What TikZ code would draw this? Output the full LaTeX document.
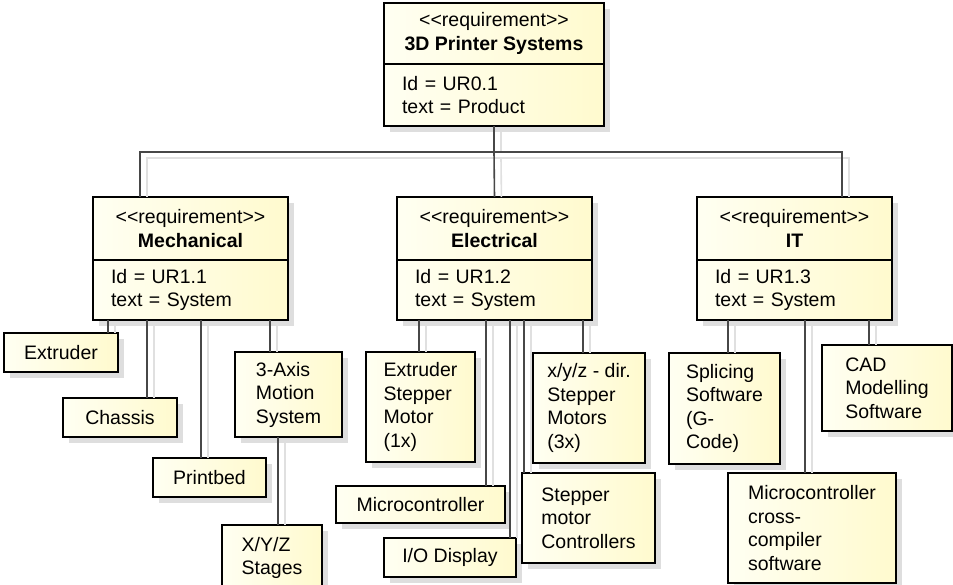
\documentclass[tikz,border=0pt]{standalone}
\usepackage{fontspec}
\setmainfont{Liberation Sans}
\usepackage{tikz}
\usetikzlibrary{positioning,shadows}
\definecolor{paper}{RGB}{255,255,242}
\definecolor{straw}{RGB}{255,250,206}
\newcommand{\stereo}{<\kern0pt<requirement>\kern0pt>}

\begin{document}
\begin{tikzpicture}[x=1pt,y=-1pt,font=\fontsize{19.5}{23.5}\selectfont,
  card/.style={draw,line width=2.4pt,outer sep=0pt,inner sep=0pt,left color=paper,right color=straw,
    drop shadow={shadow xshift=6pt,shadow yshift=-6pt,opacity=1,fill=black!13}},
  req/.style={card,anchor=north west,align=center,minimum width=195pt,minimum height=63pt},
  reqid/.style={card,align=left,text width=159pt,inner xsep=18pt,minimum height=60pt},
  leaf/.style={card,anchor=north west,align=left},
  link/.style={draw=black!72,line width=1.6pt,
    preaction={draw=black!12,line width=1.6pt,shorten >=6pt,transform canvas={xshift=7pt,yshift=-6pt}}}]
\path[use as bounding box,fill=white] (0,0) rectangle (953,585);

% requirements
\node[req,minimum width=220pt,minimum height=61pt] (sys) at (384,3) {\stereo\\\textbf{3D Printer Systems}};
\node[reqid,text width=184pt,minimum height=62pt,below=0pt of sys] (sysid) {Id = UR0.1\\text = Product};
\node[req] (mech) at (93,197) {\stereo\\\textbf{Mechanical}};
\node[reqid,below=0pt of mech] (mechid) {Id = UR1.1\\text = System};
\node[req] (elec) at (397,197) {\stereo\\\textbf{Electrical}};
\node[reqid,below=0pt of elec] (elecid) {Id = UR1.2\\text = System};
\node[req] (it) at (697,197) {\stereo\\\textbf{IT}};
\node[reqid,below=0pt of it] (itid) {Id = UR1.3\\text = System};

% mechanical parts
\node[leaf,minimum width=114pt,minimum height=39pt] (extr) at (4,333) {Extruder};
\node[leaf,minimum width=114pt,minimum height=39pt] (chassis) at (63,398) {Chassis};
\node[leaf,minimum width=113pt,minimum height=39pt] (bed) at (153,458) {Printbed};
\node[leaf,minimum width=107pt,minimum height=85pt] (axis) at (235,352) {3-Axis\\Motion\\System};
\node[leaf,minimum width=100pt,minimum height=66pt] (stages) at (222,525) {X/Y/Z\\Stages};

% electrical parts
\node[leaf,minimum width=109pt,minimum height=110pt] (estep) at (366,352) {Extruder\\Stepper\\Motor\\(1x)};
\node[leaf,minimum width=169pt,minimum height=37pt] (mcu) at (336,486) {Microcontroller};
\node[leaf,minimum width=132pt,minimum height=39pt] (io) at (384,538) {I/O Display};
\node[leaf,minimum width=112pt,minimum height=110pt] (xyz) at (533,353) {x/y/z - dir.\\Stepper\\Motors\\(3x)};
\node[leaf,minimum width=133pt,minimum height=90pt] (smc) at (522,473) {Stepper\\motor\\Controllers};

% software
\node[leaf,minimum width=111pt,minimum height=111pt] (slice) at (669,353) {Splicing\\Software\\(G-\\Code)};
\node[leaf,minimum width=130pt,minimum height=86pt] (cad) at (822,345) {CAD\\Modelling\\Software};
\node[leaf,minimum width=168pt,minimum height=110pt] (xcomp) at (728,473) {Microcontroller\\cross-\\compiler\\software};

% tree
\coordinate (bus) at (494,152);
\draw[link] (sysid.south) -- (bus);
\draw[link] (bus) -| (mech.north -| 140,0);
\draw[link] (bus) -- (elec.north);
\draw[link] (bus) -| (it.north -| 842,0);

\draw[link] (mechid.south -| 108,0) -- (extr.north -| 108,0);
\draw[link] (mechid.south -| 147,0) -- (chassis.north -| 147,0);
\draw[link] (mechid.south -| 201,0) -- (bed.north -| 201,0);
\draw[link] (mechid.south -| 270,0) -- (axis.north -| 270,0);
\draw[link] (axis.south -| 278,0) -- (stages.north -| 278,0);

\draw[link] (elecid.south -| 419,0) -- (estep.north -| 419,0);
\draw[link] (elecid.south -| 486,0) -- (mcu.north -| 486,0);
\draw[link] (elecid.south -| 510,0) -- (io.north -| 510,0);
\draw[link] (elecid.south -| 524,0) -- (smc.north -| 524,0);
\draw[link] (elecid.south -| 583,0) -- (xyz.north -| 583,0);

\draw[link] (itid.south -| 728,0) -- (slice.north -| 728,0);
\draw[link] (itid.south -| 805,0) -- (xcomp.north -| 805,0);
\draw[link] (itid.south -| 869,0) -- (cad.north -| 869,0);
\end{tikzpicture}
\end{document}
